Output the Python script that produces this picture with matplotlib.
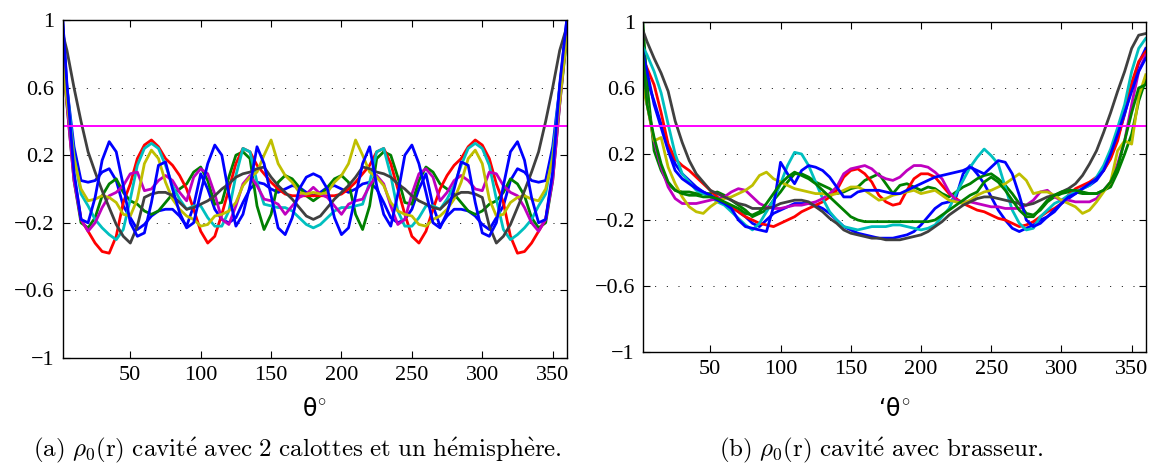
import matplotlib
matplotlib.use("Agg")
import matplotlib.pyplot as plt

plt.rcParams['font.family'] = ['Liberation Serif', 'DejaVu Serif']
plt.rcParams['mathtext.fontset'] = 'cm'

# angle grid (deg) shared by every curve
theta = [2] + list(range(5, 361, 5))

# (a) cavity with 2 caps and one hemisphere
a_blue2 = [1.0, 0.6, 0.25, 0.05, 0.04, 0.05, 0.1, 0.12, 0.05, -0.1,
           -0.17, -0.24, -0.21, -0.16, -0.13, -0.12, -0.12, -0.16, -0.22, -0.1,
           0.09, 0.0, -0.12, -0.18, -0.2, -0.17, -0.08, 0.0, 0.04, 0.03,
           0.0, -0.02, 0.0, 0.02, 0.01, -0.02, -0.04,
           -0.02, 0.01, 0.02, 0.0, -0.02, 0.0, 0.03, 0.04, 0.0, -0.08,
           -0.17, -0.2, -0.18, -0.12, 0.0, 0.09, -0.1, -0.22, -0.16, -0.12,
           -0.12, -0.13, -0.16, -0.21, -0.24, -0.17, -0.1, 0.05, 0.12, 0.1,
           0.05, 0.04, 0.05, 0.25, 0.6, 1.0]
a_green = [0.8, 0.5, 0.05, -0.2, -0.23, -0.17, -0.04, 0.03, 0.06, -0.02,
           -0.07, -0.09, -0.13, -0.15, -0.13, -0.08, -0.03, 0.0, 0.03, 0.1,
           0.13, 0.05, -0.09, -0.08, 0.07, 0.2, 0.22, 0.18, -0.1, -0.24,
           -0.15, 0.04, 0.08, 0.06, 0.01, -0.04, -0.07,
           -0.04, 0.01, 0.06, 0.08, 0.04, -0.15, -0.24, -0.1, 0.18, 0.22,
           0.2, 0.07, -0.08, -0.09, 0.05, 0.13, 0.1, 0.03, 0.0, -0.03,
           -0.08, -0.13, -0.15, -0.13, -0.09, -0.07, -0.02, 0.06, 0.03, -0.04,
           -0.17, -0.23, -0.2, 0.05, 0.5, 0.9]
a_red = [0.85, 0.52, 0.08, -0.18, -0.25, -0.32, -0.37, -0.38, -0.28, -0.08,
         0.03, 0.18, 0.26, 0.29, 0.25, 0.18, 0.14, 0.08, 0.0, -0.12,
         -0.25, -0.32, -0.28, -0.15, 0.0, 0.15, 0.24, 0.22, 0.14, 0.09,
         0.04, 0.0, -0.03, -0.04, -0.04, -0.04, -0.04,
         -0.04, -0.04, -0.04, -0.03, 0.0, 0.04, 0.09, 0.14, 0.22, 0.24,
         0.15, 0.0, -0.15, -0.28, -0.32, -0.25, -0.12, 0.0, 0.08, 0.14,
         0.18, 0.25, 0.29, 0.26, 0.18, 0.03, -0.08, -0.28, -0.38, -0.37,
         -0.32, -0.25, -0.18, 0.08, 0.52, 0.95]
a_cyan = [0.82, 0.6, 0.2, -0.03, -0.1, -0.18, -0.23, -0.27, -0.3, -0.24,
          -0.06, 0.14, 0.24, 0.27, 0.24, 0.14, 0.02, -0.06, -0.12, -0.1,
          -0.1, -0.17, -0.22, -0.22, -0.13, 0.08, 0.24, 0.22, 0.04, -0.09,
          -0.1, -0.11, -0.11, -0.13, -0.17, -0.21, -0.23,
          -0.21, -0.17, -0.13, -0.11, -0.11, -0.1, -0.09, 0.04, 0.22, 0.24,
          0.08, -0.13, -0.22, -0.22, -0.17, -0.1, -0.1, -0.12, -0.06, 0.02,
          0.14, 0.24, 0.27, 0.24, 0.14, -0.06, -0.24, -0.3, -0.27, -0.23,
          -0.18, -0.1, -0.03, 0.2, 0.6, 0.95]
a_magenta = [0.78, 0.5, 0.05, -0.18, -0.25, -0.2, -0.11, -0.04, -0.02, 0.02,
             0.09, 0.1, -0.01, 0.0, 0.05, 0.08, 0.05, -0.02, -0.07, 0.07,
             0.12, 0.09, -0.03, -0.18, -0.21, -0.1, 0.03, 0.08, 0.02, -0.06,
             -0.07, -0.09, -0.15, -0.1, -0.05, -0.03, 0.01,
             -0.03, -0.05, -0.1, -0.15, -0.09, -0.07, -0.06, 0.02, 0.08, 0.03,
             -0.1, -0.21, -0.18, -0.03, 0.09, 0.12, 0.07, -0.07, -0.02, 0.05,
             0.08, 0.05, 0.0, -0.01, 0.1, 0.09, 0.02, -0.02, -0.04, -0.11,
             -0.2, -0.25, -0.18, 0.05, 0.5, 0.93]
a_yellow = [0.75, 0.52, 0.18, 0.0, -0.07, -0.06, -0.04, -0.05, -0.08, -0.15,
            -0.16, -0.06, 0.15, 0.23, 0.18, 0.04, -0.06, -0.12, -0.16, -0.18,
            -0.22, -0.21, -0.16, -0.15, -0.13, -0.08, 0.02, 0.07, 0.1, 0.2,
            0.29, 0.15, 0.08, 0.04, -0.02, -0.03, -0.02,
            -0.03, -0.02, 0.04, 0.08, 0.15, 0.29, 0.2, 0.1, 0.07, 0.02,
            -0.08, -0.13, -0.15, -0.16, -0.21, -0.22, -0.18, -0.16, -0.12, -0.06,
            0.04, 0.18, 0.23, 0.15, -0.06, -0.16, -0.15, -0.08, -0.05, -0.04,
            -0.06, -0.07, 0.0, 0.18, 0.52, 0.9]
a_gray = [0.92, 0.82, 0.6, 0.4, 0.22, 0.1, -0.01, -0.11, -0.21, -0.28,
          -0.32, -0.22, -0.05, -0.03, -0.02, -0.02, -0.04, -0.08, -0.12, -0.11,
          -0.09, -0.07, -0.04, 0.0, 0.03, 0.07, 0.09, 0.1, 0.12, 0.13,
          0.07, 0.02, -0.02, -0.06, -0.11, -0.16, -0.18,
          -0.16, -0.11, -0.06, -0.02, 0.02, 0.07, 0.13, 0.12, 0.1, 0.09,
          0.07, 0.03, 0.0, -0.04, -0.07, -0.09, -0.11, -0.12, -0.08, -0.04,
          -0.02, -0.02, -0.03, -0.05, -0.22, -0.32, -0.28, -0.21, -0.11, -0.01,
          0.1, 0.22, 0.4, 0.6, 0.82, 0.96]
a_blue1 = [1.0, 0.62, 0.1, -0.18, -0.2, -0.05, 0.17, 0.28, 0.22, 0.02,
           -0.2, -0.28, -0.26, -0.08, 0.14, 0.16, 0.0, -0.14, -0.23, -0.2,
           -0.02, 0.15, 0.26, 0.2, -0.03, -0.22, -0.15, 0.02, 0.25, 0.15,
           -0.04, -0.23, -0.27, -0.17, 0.0, 0.07, 0.09,
           0.07, 0.0, -0.17, -0.27, -0.23, -0.04, 0.15, 0.25, 0.02, -0.15,
           -0.22, -0.03, 0.2, 0.26, 0.15, -0.02, -0.2, -0.23, -0.14, 0.0,
           0.16, 0.14, -0.08, -0.26, -0.28, -0.2, 0.02, 0.22, 0.28, 0.17,
           -0.05, -0.2, -0.18, 0.1, 0.62, 1.0]

# (b) cavity with stirrer
b_blue2 = [0.75, 0.65, 0.52, 0.38, 0.25, 0.14, 0.08, 0.04, 0.0, -0.03,
           -0.05, -0.07, -0.1, -0.12, -0.15, -0.18, -0.22, -0.24, -0.2, -0.16,
           -0.14, -0.12, -0.1, -0.1, -0.1, -0.11, -0.13, -0.16, -0.2, -0.24,
           -0.26, -0.28, -0.29, -0.3, -0.31, -0.31, -0.31, -0.3, -0.29, -0.27,
           -0.23, -0.18, -0.13, -0.1, -0.09, -0.06, 0.08, 0.13, 0.08, 0.02,
           -0.06, -0.14, -0.2, -0.25, -0.27, -0.25, -0.23, -0.2, -0.18, -0.15,
           -0.1, -0.07, -0.04, -0.01, 0.01, 0.04, 0.1, 0.18, 0.3, 0.44,
           0.6, 0.75, 0.84]
b_green1 = [1.0, 0.62, 0.22, 0.1, 0.02, -0.02, -0.03, -0.03, -0.04, -0.04,
            -0.04, -0.03, -0.05, -0.08, -0.11, -0.14, -0.18, -0.16, -0.14, -0.08,
            -0.03, 0.03, 0.08, 0.08, 0.06, 0.03, 0.01, -0.01, -0.04, -0.03,
            -0.01, 0.0, 0.04, 0.06, 0.08, 0.02, -0.04, 0.01, 0.02, 0.0,
            -0.02, 0.0, -0.01, -0.04, -0.06, -0.03, 0.0, 0.02, 0.05, 0.07,
            0.08, 0.05, 0.01, -0.04, -0.1, -0.16, -0.17, -0.14, -0.09, -0.06,
            -0.04, -0.03, -0.03, -0.04, -0.04, -0.04, -0.02, 0.0, 0.09, 0.2,
            0.32, 0.52, 0.65]
b_red = [0.78, 0.72, 0.62, 0.45, 0.26, 0.17, 0.13, 0.1, 0.06, 0.02,
         -0.02, -0.06, -0.1, -0.12, -0.15, -0.18, -0.2, -0.22, -0.23, -0.24,
         -0.22, -0.2, -0.18, -0.15, -0.13, -0.11, -0.09, -0.06, -0.02, 0.06,
         0.1, 0.11, 0.08, 0.03, -0.05, -0.09, -0.11, -0.1, -0.02, 0.05,
         0.08, 0.08, 0.06, 0.01, -0.04, -0.07, -0.1, -0.12, -0.14, -0.15,
         -0.17, -0.19, -0.2, -0.22, -0.24, -0.23, -0.21, -0.18, -0.15, -0.13,
         -0.1, -0.05, -0.01, 0.01, 0.03, 0.06, 0.1, 0.17, 0.28, 0.45,
         0.63, 0.76, 0.82]
b_cyan = [0.85, 0.8, 0.7, 0.57, 0.38, 0.2, 0.08, 0.03, -0.02, -0.04,
          -0.06, -0.09, -0.11, -0.15, -0.19, -0.23, -0.26, -0.22, -0.15, -0.08,
          0.02, 0.13, 0.21, 0.2, 0.13, 0.03, -0.07, -0.15, -0.2, -0.24,
          -0.25, -0.26, -0.25, -0.24, -0.24, -0.24, -0.23, -0.23, -0.24, -0.25,
          -0.26, -0.25, -0.23, -0.18, -0.13, -0.04, 0.04, 0.12, 0.18, 0.23,
          0.19, 0.14, 0.0, -0.14, -0.22, -0.26, -0.25, -0.18, -0.14, -0.1,
          -0.08, -0.05, -0.03, -0.01, 0.01, 0.06, 0.13, 0.23, 0.36, 0.5,
          0.7, 0.84, 0.9]
b_magenta = [0.78, 0.5, 0.28, 0.12, 0.0, -0.07, -0.1, -0.1, -0.1, -0.09,
             -0.08, -0.07, -0.06, -0.03, -0.01, -0.02, -0.06, -0.1, -0.12, -0.13,
             -0.13, -0.12, -0.11, -0.11, -0.1, -0.09, -0.07, -0.04, 0.0, 0.08,
             0.11, 0.12, 0.13, 0.11, 0.07, 0.05, 0.04, 0.06, 0.1, 0.13,
             0.13, 0.12, 0.09, 0.05, -0.03, -0.08, -0.09, -0.09, -0.1, -0.11,
             -0.12, -0.12, -0.13, -0.13, -0.13, -0.11, -0.08, -0.03, -0.02, -0.06,
             -0.08, -0.08, -0.09, -0.09, -0.09, -0.07, -0.02, 0.03, 0.14, 0.28,
             0.5, 0.7, 0.8]
b_yellow = [0.6, 0.5, 0.28, 0.3, 0.12, 0.02, -0.06, -0.12, -0.15, -0.16,
            -0.12, -0.09, -0.07, -0.06, -0.04, -0.02, 0.01, 0.07, 0.09, 0.05,
            0.03, 0.01, -0.01, -0.02, -0.03, -0.04, -0.04, -0.05, -0.04, -0.02,
            0.0, 0.0, -0.02, -0.05, -0.08, -0.07, -0.05, -0.04, -0.03, -0.02,
            -0.04, -0.03, -0.02, -0.05, -0.08, -0.09, -0.1, -0.08, -0.05, -0.03,
            -0.02, 0.0, 0.02, 0.05, 0.08, 0.04, -0.04, -0.03, -0.03, -0.05,
            -0.08, -0.1, -0.12, -0.16, -0.14, -0.09, -0.03, 0.03, 0.22, 0.28,
            0.26, 0.55, 0.68]
b_gray = [0.95, 0.88, 0.78, 0.69, 0.58, 0.4, 0.27, 0.16, 0.08, 0.03,
          -0.02, -0.04, -0.06, -0.08, -0.1, -0.11, -0.13, -0.13, -0.13, -0.12,
          -0.1, -0.09, -0.08, -0.08, -0.09, -0.12, -0.15, -0.19, -0.22, -0.26,
          -0.28, -0.29, -0.3, -0.31, -0.31, -0.32, -0.32, -0.32, -0.31, -0.3,
          -0.29, -0.27, -0.24, -0.21, -0.17, -0.14, -0.11, -0.09, -0.07, -0.06,
          -0.06, -0.07, -0.08, -0.09, -0.1, -0.11, -0.1, -0.08, -0.06, -0.05,
          -0.03, -0.01, 0.02, 0.07, 0.14, 0.22, 0.33, 0.45, 0.58, 0.7,
          0.84, 0.92, 0.93]
b_blue1 = [0.82, 0.7, 0.5, 0.36, 0.22, 0.1, 0.05, 0.02, -0.01, -0.03,
           -0.05, -0.08, -0.1, -0.13, -0.2, -0.24, -0.25, -0.26, -0.27, -0.12,
           0.15, 0.08, 0.02, 0.1, 0.13, 0.12, 0.1, 0.06, 0.0, -0.06,
           -0.06, -0.03, -0.02, -0.02, -0.02, -0.03, -0.04, -0.04, -0.02, 0.0,
           0.02, 0.04, 0.06, 0.07, 0.08, 0.09, 0.1, 0.12, 0.1, 0.08,
           0.12, 0.16, 0.15, 0.08, -0.05, -0.2, -0.24, -0.22, -0.18, -0.14,
           -0.1, -0.06, -0.04, -0.01, 0.02, 0.05, 0.1, 0.2, 0.32, 0.45,
           0.58, 0.7, 0.78]
b_green2 = [0.8, 0.5, 0.3, 0.14, 0.03, -0.02, -0.04, -0.05, -0.05, -0.06,
            -0.06, -0.07, -0.09, -0.11, -0.13, -0.16, -0.17, -0.15, -0.1, -0.04,
            0.02, 0.06, 0.09, 0.07, 0.05, 0.02, -0.02, -0.06, -0.1, -0.14,
            -0.18, -0.2, -0.21, -0.21, -0.21, -0.21, -0.21, -0.21, -0.21, -0.21,
            -0.21, -0.21, -0.2, -0.17, -0.14, -0.11, -0.08, -0.05, -0.03, 0.03,
            0.06, 0.03, -0.02, -0.08, -0.14, -0.18, -0.18, -0.13, -0.08, -0.05,
            -0.03, -0.02, -0.02, -0.03, -0.04, -0.04, -0.02, 0.03, 0.12, 0.28,
            0.45, 0.6, 0.62]

threshold = 0.37  # 1/e line

c_b = (0, 0, 1)
c_g = (0, 0.5, 0)
c_r = (1, 0, 0)
c_c = (0, 0.75, 0.75)
c_m = (0.75, 0, 0.75)
c_y = (0.75, 0.75, 0)
c_k = (0.25, 0.25, 0.25)

curves_a = [(a_blue2, c_b), (a_green, c_g), (a_red, c_r), (a_cyan, c_c),
            (a_magenta, c_m), (a_yellow, c_y), (a_gray, c_k), (a_blue1, c_b)]
curves_b = [(b_blue2, c_b), (b_green1, c_g), (b_red, c_r), (b_cyan, c_c),
            (b_magenta, c_m), (b_yellow, c_y), (b_gray, c_k), (b_blue1, c_b),
            (b_green2, c_g)]

xticks = [50, 100, 150, 200, 250, 300, 350]
yticks = [-1, -0.6, -0.2, 0.2, 0.6, 1]
ytick_labels = ['\u22121', '\u22120.6', '\u22120.2', '0.2', '0.6', '1']

fig = plt.figure(figsize=(11.51, 4.66), dpi=100)
ax1 = fig.add_axes([0.0545, 0.2318, 0.4379, 0.7253])
ax2 = fig.add_axes([0.5589, 0.2446, 0.4365, 0.7082])


def draw(ax, curves, xlim, xlabel, label_y):
    for vals, col in curves:
        ax.plot(theta, vals, color=col, lw=2.0)
    ax.axhline(threshold, color=(1, 0, 1), lw=1.4)
    ax.set_xlim(*xlim)
    ax.set_ylim(-1, 1)
    ax.set_xticks(xticks)
    ax.set_yticks(yticks)
    ax.set_yticklabels(ytick_labels)
    ax.yaxis.grid(True, color='k', lw=0.7, ls=(0, (1, 11)))
    ax.tick_params(direction='in', top=True, right=True, length=5, width=0.8,
                   labelsize=16, pad=6)
    for s in ax.spines.values():
        s.set_linewidth(1.0)
    ax.set_xlabel(xlabel, fontsize=17, family='DejaVu Sans', va='top')
    ax.xaxis.set_label_coords(0.5, label_y)


draw(ax1, curves_a, (2, 360), '\u03b8$^{\\circ}$', -0.115)
draw(ax2, curves_b, (2.3, 360), '\u2018\u03b8$^{\\circ}$', -0.135)

fig.text(0.258, 0.02,
         r'$\mathrm{(a)}\ \rho_0\mathrm{(r)\ cavit\acute{e}\ avec\ 2\ calottes\ et\ un\ h\acute{e}misph\grave{e}re.}$',
         ha='center', va='baseline', fontsize=18)
fig.text(0.766, 0.02,
         r'$\mathrm{(b)}\ \rho_0\mathrm{(r)\ cavit\acute{e}\ avec\ brasseur.}$',
         ha='center', va='baseline', fontsize=18)

fig.savefig('out.png', dpi=100)
